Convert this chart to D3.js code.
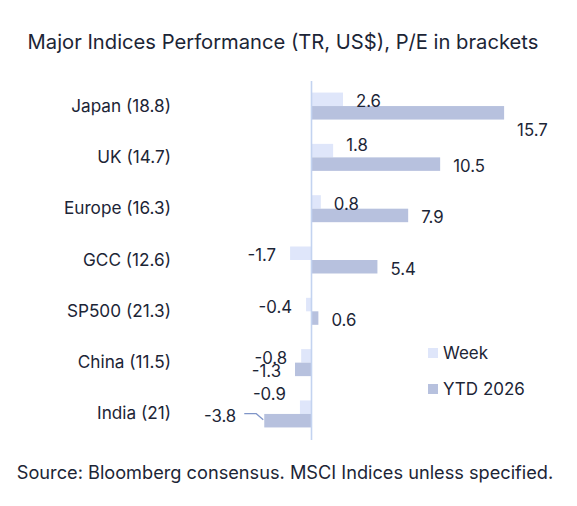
<!DOCTYPE html>
<html>
<head>
    <meta charset="UTF-8">
    <title>Major Indices Performance</title>
    <style>
        body { margin: 0; background: #fff; }
        svg { font-family: Inter, "Noto Sans", sans-serif; }
    </style>
</head>
<body>
<svg id="chart" width="577" height="506"></svg>
<script src="https://cdn.jsdelivr.net/npm/d3@7"></script>
<script>
    // data
    let categories = ['Japan (18.8)', 'UK (14.7)', 'Europe (16.3)', 'GCC (12.6)', 'SP500 (21.3)', 'China (11.5)', 'India (21)'];
    let week = [2.6, 1.8, 0.8, -1.7, -0.4, -0.8, -0.9];
    let ytd = [15.7, 10.5, 7.9, 5.4, 0.6, -1.3, -3.8];
    let seriesNames = ['Week', 'YTD 2026'];

    let colors = ['#dfe6fa', '#b7c1de'];
    let ink = '#1c2536';

    // a few labels were pushed around to avoid collisions
    let nudge = {
        'Japan (18.8)|1': {dy: 15},
        'UK (14.7)|0': {dy: -8},
        'India (21)|0': {dy: -15},
        'India (21)|1': {dx: -14, dy: -7, leader: true}
    };

    let fmt = v => v.toFixed(1);   // plain hyphen, like the original

    let svg = d3.select('#chart');

    svg.append('text')
        .attr('x', 283).attr('y', 49)
        .attr('text-anchor', 'middle')
        .attr('font-size', 20.2)
        .attr('fill', ink)
        .text('Major Indices Performance (TR, US$), P/E in brackets');

    svg.append('text')
        .attr('x', 285).attr('y', 479)
        .attr('text-anchor', 'middle')
        .attr('font-size', 18.2)
        .attr('fill', ink)
        .text('Source: Bloomberg consensus. MSCI Indices unless specified.');

    let x = d3.scaleLinear()
        .domain([-4, 16])
        .range([261.8, 507.8]);

    let y = d3.scaleBand()
        .domain(categories)
        .range([80.4, 439.6]);

    let inner = d3.scaleBand()
        .domain([0, 1])
        .range([y.bandwidth() / 2 - 13.5, y.bandwidth() / 2 + 13.5]);

    let rows = categories.map((c, i) => ({cat: c, vals: [week[i], ytd[i]]}));

    let g = svg.selectAll('.cat')
        .data(rows)
        .enter().append('g')
        .attr('class', 'cat')
        .attr('transform', d => 'translate(0,' + y(d.cat) + ')');

    g.selectAll('rect')
        .data(d => d.vals.map((v, k) => ({cat: d.cat, v: v, k: k})))
        .enter().append('rect')
        .attr('x', d => Math.min(x(0), x(d.v)))
        .attr('width', d => Math.abs(x(d.v) - x(0)))
        .attr('y', d => inner(d.k))
        .attr('height', inner.bandwidth())
        .attr('fill', d => colors[d.k]);

    // category axis
    let yAxis = svg.append('g')
        .attr('transform', 'translate(' + x(0) + ',0)')
        .call(d3.axisLeft(y).tickSize(0).tickPadding(140));
    yAxis.select('.domain')
        .attr('stroke', '#c3d3f0')
        .attr('stroke-width', 1.6);
    yAxis.selectAll('text')
        .attr('font-size', 17.2)
        .attr('font-family', 'Inter, "Noto Sans", sans-serif')
        .attr('fill', ink);

    // value labels
    g.selectAll('.val')
        .data(d => d.vals.map((v, k) => ({cat: d.cat, v: v, k: k})))
        .enter().append('text')
        .attr('class', 'val')
        .attr('font-size', 16.8)
        .attr('fill', ink)
        .attr('text-anchor', d => d.v >= 0 ? 'start' : 'end')
        .attr('dominant-baseline', 'central')
        .attr('x', d => {
            let n = nudge[d.cat + '|' + d.k] || {};
            return x(d.v) + (d.v >= 0 ? 13 : -14) + (n.dx || 0);
        })
        .attr('y', d => {
            let n = nudge[d.cat + '|' + d.k] || {};
            return inner(d.k) + inner.bandwidth() / 2 + 2 + (n.dy || 0);
        })
        .text(d => fmt(d.v));

    // leader line for the moved India label
    g.filter(d => d.cat === 'India (21)')
        .append('path')
        .attr('d', d => {
            let cy = inner(1) + inner.bandwidth() / 2;
            let bx = x(d.vals[1]);
            return 'M' + (bx - 20) + ',' + (cy - 7) +
                'H' + (bx - 8) + 'L' + (bx - 1) + ',' + (cy - 1);
        })
        .attr('fill', 'none')
        .attr('stroke', '#7f95c8')
        .attr('stroke-width', 1.2);

    // legend
    let legend = svg.append('g')
        .attr('transform', 'translate(428,353)');
    let li = legend.selectAll('g')
        .data(seriesNames)
        .enter().append('g')
        .attr('transform', (d, i) => 'translate(0,' + i * 36 + ')');
    li.append('rect')
        .attr('x', 0).attr('y', -5)
        .attr('width', 10).attr('height', 10)
        .attr('fill', (d, i) => colors[i]);
    li.append('text')
        .attr('x', 15).attr('y', 0)
        .attr('dominant-baseline', 'central')
        .attr('font-size', 17)
        .attr('fill', ink)
        .text(d => d);
</script>
</body>
</html>
